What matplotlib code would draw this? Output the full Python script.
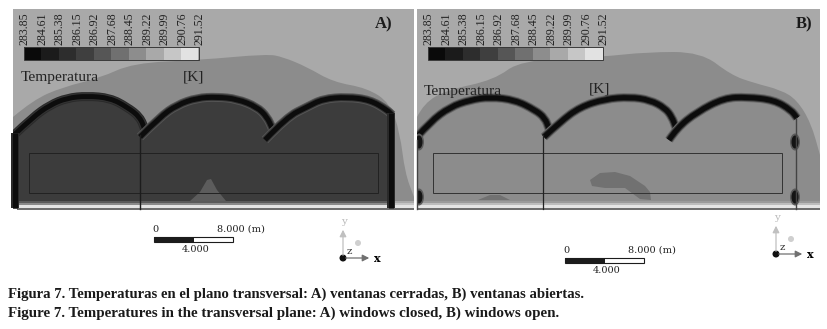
import matplotlib
matplotlib.use('Agg')
import matplotlib.pyplot as plt
from matplotlib.patches import Polygon, Rectangle, Circle, Ellipse, PathPatch
from matplotlib.path import Path

plt.rcParams['font.family'] = ['Liberation Serif', 'DejaVu Serif']

# temperature scale
scale_labels = ['283.85', '284.61', '285.38', '286.15', '286.92', '287.68',
                '288.45', '289.22', '289.99', '290.76', '291.52']
scale_greys = ['#0a0a0a', '#1b1b1b', '#2d2d2d', '#3f3f3f', '#565656',
               '#707070', '#8d8d8d', '#a9a9a9', '#c6c6c6', '#e2e2e2']

# outlines, in image pixels
a_plume = [(13, 117), (33, 100), (63, 87), (100, 78), (133, 63), (200, 60), (267, 54),
           (283, 57), (307, 67), (333, 82), (367, 88), (390, 103), (400, 133),
           (405, 173), (414, 197)]
a_roof_1 = [(14, 135), (33, 117), (50, 105), (67, 98), (87, 96), (110, 98), (127, 107),
            (140, 117), (145, 130)]
a_roof_2 = [(140, 137), (160, 117), (177, 105), (197, 98), (217, 97), (237, 99),
            (257, 107), (267, 117), (272, 128)]
a_roof_3 = [(265, 140), (287, 117), (307, 107), (323, 99), (347, 97), (370, 100),
            (387, 110), (392, 115)]
a_inside = [(15, 135), (33, 117), (50, 105), (67, 99), (87, 98), (110, 99), (127, 107),
            (140, 117), (145, 130), (160, 117), (177, 105), (197, 98), (217, 98),
            (237, 99), (257, 107), (267, 117), (272, 128), (287, 117), (307, 107),
            (323, 99), (347, 98), (370, 100), (387, 110), (392, 115), (392, 205), (15, 205)]
a_hot = [(190, 201), (200, 192), (207, 180), (211, 179), (217, 190), (226, 201)]

b_plume = [(417, 117), (424, 103), (447, 90), (494, 80), (521, 60), (601, 57), (647, 52),
           (701, 52), (731, 75), (754, 83), (781, 90), (797, 100), (811, 123), (820, 155)]
b_roof_1 = [(417, 137), (430, 122), (450, 107), (470, 100), (490, 97), (515, 100),
            (535, 110), (545, 118), (549, 129)]
b_roof_2 = [(544, 137), (560, 122), (580, 107), (605, 99), (630, 97), (650, 100),
            (665, 108), (672, 117), (676, 128)]
b_roof_3 = [(669, 140), (677, 128), (697, 112), (724, 98), (747, 97), (774, 100),
            (791, 110), (797, 118)]
b_patch_1 = [(590, 180), (600, 173), (615, 172), (630, 176), (645, 186), (650, 192),
             (651, 200), (640, 199), (625, 188), (605, 188), (592, 186)]
b_patch_2 = [(478, 200), (490, 195), (500, 195), (510, 200)]
b_blobs = [(419, 142), (795, 142), (419, 197), (795, 197)]

scales = [{'x0': 24, 'title': 'A)', 'title_x': 375, 'temp': (21, 77), 'unit': (183, 77)},
          {'x0': 428, 'title': 'B)', 'title_x': 796, 'temp': (424, 91), 'unit': (589, 89)}]

fig = plt.figure(figsize=(8.27, 3.29), dpi=100)
ax = fig.add_axes([0, 0, 1, 1])
ax.set_xlim(0, 827)
ax.set_ylim(329, 0)
ax.axis('off')


def curve_path(pts, tail=()):
    verts = [pts[0]]
    codes = [Path.MOVETO]
    for p, q in zip(pts[1:-1], pts[2:]):
        verts += [p, ((p[0] + q[0]) / 2, (p[1] + q[1]) / 2)]
        codes += [Path.CURVE3, Path.CURVE3]
    verts.append(pts[-1])
    codes.append(Path.LINETO)
    for t in tail:
        verts.append(t)
        codes.append(Path.LINETO)
    return Path(verts, codes)


def soft_line(pts, halo):
    for w, c in [(9, halo), (7, '#333333'), (5, '#0c0c0c')]:
        ax.add_patch(PathPatch(curve_path(pts), fill=False, ec=c, lw=w * 0.72, capstyle='butt'))


def soft_wall(x, y0, y1):
    for w, c in [(8, '#2a2a2a'), (5, '#0c0c0c')]:
        ax.plot([x, x], [y0, y1], color=c, lw=w * 0.72, solid_capstyle='butt')


def bottom_strip(x0, x1, greys):
    ax.add_patch(Rectangle((x0, 201), x1 - x0, 2, color=greys[0], lw=0))
    ax.add_patch(Rectangle((x0, 203), x1 - x0, 2, color=greys[1], lw=0))
    ax.add_patch(Rectangle((x0, 205), x1 - x0, 3, color='#e4e4e4', lw=0))
    ax.add_patch(Rectangle((x0, 208), x1 - x0, 1.5, color='#6e6e6e', lw=0))


# panel A
ax.add_patch(Rectangle((13, 9), 401, 200, color='#a9a9a9', lw=0))
ax.add_patch(PathPatch(curve_path(a_plume, [(414, 209), (13, 209)]), fc='#8c8c8c', lw=0))
ax.add_patch(Polygon(a_inside, color='#3c3c3c', lw=0))
ax.add_patch(Polygon(a_hot, color='#5c5c5c', lw=0))
bottom_strip(17, 392, ['#5a5a5a', '#8a8a8a'])
bottom_strip(392, 414, ['#a9a9a9', '#c4c4c4'])
soft_line(a_roof_1, '#2a2a2a')
soft_line(a_roof_2, '#555555')
soft_line(a_roof_3, '#555555')
soft_wall(15, 133, 208)
soft_wall(391, 113, 208)
ax.plot([140, 140], [135, 209], color='#1c1c1c', lw=1.0)
ax.add_patch(Rectangle((29, 153), 349, 40, fill=False, ec='#222222', lw=0.7))

# panel B
ax.add_patch(Rectangle((417, 9), 403, 200, color='#a9a9a9', lw=0))
ax.add_patch(PathPatch(curve_path(b_plume, [(820, 209), (417, 209)]), fc='#8c8c8c', lw=0))
ax.add_patch(Polygon(b_patch_1, color='#717171', lw=0))
ax.add_patch(Polygon(b_patch_2, color='#717171', lw=0))
bottom_strip(417, 820, ['#9a9a9a', '#bcbcbc'])
soft_line(b_roof_1, '#6a6a6a')
soft_line(b_roof_2, '#6a6a6a')
soft_line(b_roof_3, '#6a6a6a')
ax.plot([543, 543], [135, 209], color='#222222', lw=0.9)
ax.plot([796, 796], [118, 209], color='#444444', lw=1.0)
ax.plot([417, 417], [140, 209], color='#444444', lw=1.0)
for bx, by in b_blobs:
    ax.add_patch(Ellipse((bx, by), 10, 17, color='#5a5a5a', lw=0))
    ax.add_patch(Ellipse((bx, by), 7, 13, color='#141414', lw=0))
ax.add_patch(Rectangle((433, 153), 349, 40, fill=False, ec='#333333', lw=0.7))

# keep the soft strokes inside the panels
for mx, mw in [(0, 13), (414, 3), (820, 7)]:
    ax.add_patch(Rectangle((mx, 0), mw, 215, color='white', lw=0))

# colour scales and panel text
cell = 17.45
for s in scales:
    for i, g in enumerate(scale_greys):
        ax.add_patch(Rectangle((s['x0'] + i * cell, 47), cell, 13, color=g, lw=0))
    ax.add_patch(Rectangle((s['x0'], 47), 10 * cell, 13, fill=False, ec='#3a3a3a', lw=0.7))
    for i, lab in enumerate(scale_labels):
        ax.text(s['x0'] + i * cell + 1, 45, lab, rotation=90, ha='center', va='bottom',
                fontsize=8.6, color='#222222')
    ax.text(s['title_x'], 24, s['title'], fontsize=12, fontweight='bold', va='center', color='#1a1a1a')
    ax.text(s['temp'][0], s['temp'][1], 'Temperatura', fontsize=11.1, va='center', color='#222222')
    ax.text(s['unit'][0], s['unit'][1], '[K]', fontsize=11.1, va='center', color='#222222')

# length bars and axis triads
for bx, by in [(154, 237), (565, 258)]:
    ax.add_patch(Rectangle((bx, by), 40, 5, color='#1c1c1c', lw=0))
    ax.add_patch(Rectangle((bx, by), 79, 5, fill=False, ec='#1c1c1c', lw=0.8))
    ax.text(bx + 1, by - 3, '0', fontsize=7, ha='center', va='bottom', family='DejaVu Serif', color='#222222')
    ax.text(bx + 87, by - 3, '8.000 (m)', fontsize=7, ha='center', va='bottom',
            family='DejaVu Serif', color='#222222')
    ax.text(bx + 42, by + 8, '4.000', fontsize=7, ha='center', va='top', family='DejaVu Serif', color='#222222')

for tx, ty in [(343, 258), (776, 254)]:
    ax.annotate('', xy=(tx + 29, ty), xytext=(tx, ty),
                arrowprops=dict(arrowstyle='-|>', color='#707070', lw=0.9))
    ax.annotate('', xy=(tx, ty - 31), xytext=(tx, ty),
                arrowprops=dict(arrowstyle='-|>', color='#c0c0c0', lw=0.9))
    ax.add_patch(Circle((tx, ty), 3.5, color='#111111', lw=0))
    ax.add_patch(Circle((tx + 15, ty - 15), 3, color='#cfcfcf', lw=0))
    ax.text(tx + 34, ty, 'x', fontsize=8, fontweight='bold', ha='center', va='center', family='DejaVu Serif')
    ax.text(tx + 1, ty - 37, 'y', fontsize=7.5, ha='center', va='center', color='#bbbbbb', family='DejaVu Serif')
    ax.text(tx + 6, ty - 7, 'z', fontsize=7.5, ha='center', va='center', color='#333333', family='DejaVu Serif')

# caption
ax.text(8, 294, 'Figura 7. Temperaturas en el plano transversal: A) ventanas cerradas, B) ventanas abiertas.',
        fontsize=10.6, fontweight='bold', va='center', color='#1a1a1a')
ax.text(8, 313, 'Figure 7. Temperatures in the transversal plane: A) windows closed, B) windows open.',
        fontsize=10.8, fontweight='bold', va='center', color='#1a1a1a')

plt.savefig('out.png', dpi=100)
